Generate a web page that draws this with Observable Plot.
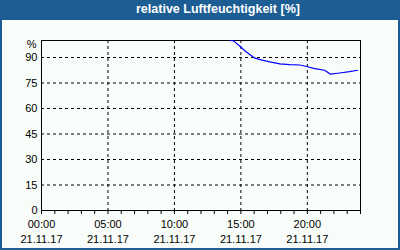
<!DOCTYPE html>
<html>
<head>
<meta charset="utf-8">
<script src="https://cdn.jsdelivr.net/npm/d3@7"></script>
<script src="https://cdn.jsdelivr.net/npm/@observablehq/plot@0.6"></script>
<style>
  html, body { margin: 0; padding: 0; background: #f9fdf9; }
  #wrap { position: relative; width: 400px; height: 250px; background: #f9fdf9; overflow: hidden; }
  #title { position: absolute; left: 0; top: 0; width: 400px; height: 20px; background: #1c5e94; }
  #title span { position: absolute; left: 136px; top: 2px; color: #fff; font: bold 12.5px "Liberation Sans", Arial, sans-serif; white-space: nowrap; }
  #chart { position: absolute; left: 0; top: 20px; }
  #border { position: absolute; left: 0; top: 0; width: 400px; height: 250px; box-sizing: border-box; border: 2px solid #1c5e94; pointer-events: none; }
</style>
</head>
<body>
<div id="wrap">
  <div id="title"><span>relative Luftfeuchtigkeit [%]</span></div>
  <div id="chart"></div>
  <div id="border"></div>
</div>
<script>
const title = "relative Luftfeuchtigkeit [%]";
const hours = [14.2, 14.45, 14.93, 15.3, 16.05, 16.6, 17.18, 17.93, 18.68, 19.43, 19.95, 20.55, 21.3, 21.75, 22.43, 23.18, 23.78];
const humidity = [100, 99.8, 96.6, 94, 89.6, 88.5, 87.4, 86.2, 85.8, 85.6, 84.7, 83.5, 82.5, 80.2, 80.9, 81.7, 82.5];
const xTicks = [0, 5, 10, 15, 20];
const timeLabels = ["00:00", "05:00", "10:00", "15:00", "20:00"];
const dateLabel = "21.11.17";
const yTicks = [0, 15, 30, 45, 60, 75, 90];
const yUnit = "%";
const hourTicks = d3.range(0, 25);

const chart = Plot.plot({
  width: 400,
  height: 230,
  marginTop: 20,
  marginBottom: 40,
  marginLeft: 41,
  marginRight: 40,
  x: { domain: [0, 24], axis: null },
  y: { domain: [0, 100], axis: null },
  style: { background: "transparent", fontFamily: "'Liberation Sans', Arial, sans-serif", fontSize: "11px", color: "black" },
  marks: [
    Plot.gridX(xTicks.slice(1), { stroke: "black", strokeOpacity: 1, strokeDasharray: "3,3" }),
    Plot.gridY(yTicks.slice(1), { stroke: "black", strokeOpacity: 1, strokeDasharray: "3,3" }),
    Plot.frame({ stroke: "black" }),
    Plot.axisX(hourTicks, { tickSize: 4, tickFormat: () => "", stroke: "black" }),
    Plot.text(xTicks, { x: d => d, text: (d, i) => timeLabels[i], frameAnchor: "bottom", dy: 17, fill: "black", fontSize: 11 }),
    Plot.text(xTicks, { x: d => d, text: () => dateLabel, frameAnchor: "bottom", dy: 32, fill: "black", fontSize: 11 }),
    Plot.text(yTicks, { y: d => d, text: d => String(d), frameAnchor: "left", textAnchor: "end", dx: -4, fill: "black", fontSize: 11 }),
    Plot.text([100], { y: d => d, text: () => yUnit, frameAnchor: "left", textAnchor: "end", dx: -5, dy: 4, fill: "black", fontSize: 11 }),
    Plot.line(humidity, { x: hours, y: humidity, stroke: "#0000ff", strokeWidth: 1.2 })
  ]
});
document.getElementById("chart").appendChild(chart);
</script>
</body>
</html>
